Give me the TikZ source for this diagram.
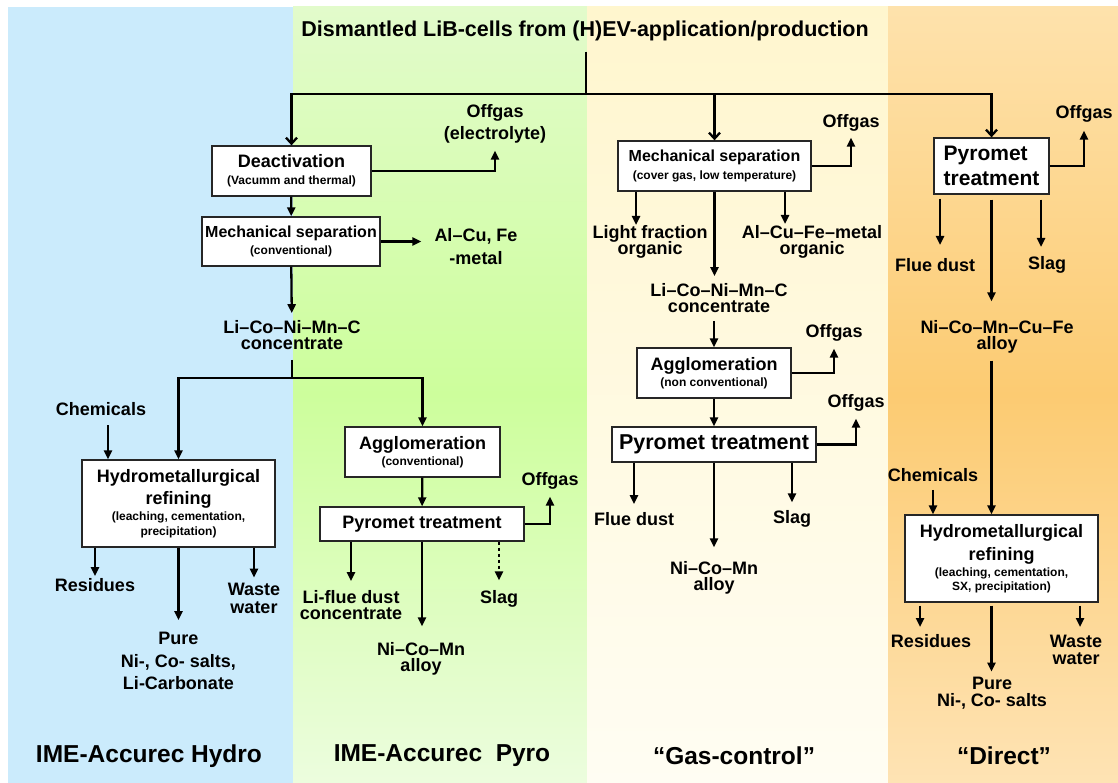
\documentclass[tikz,border=0pt]{standalone}
\usepackage{fontspec}
\setmainfont{Liberation Sans}
\usetikzlibrary{arrows.meta}

\newcommand{\setfs}[2]{\fontsize{#1}{#2}\selectfont\lineskiplimit=-50pt}
\newcommand{\subfs}{\fontsize{12}{14}\selectfont}

\definecolor{hydrobg}{RGB}{203,235,252}
\definecolor{pyrotop}{RGB}{226,251,203}
\definecolor{pyromid}{RGB}{205,254,156}
\definecolor{pyrobot}{RGB}{236,253,222}
\definecolor{gastop}{RGB}{255,246,206}
\definecolor{gasbot}{RGB}{255,253,243}
\definecolor{directtop}{RGB}{254,226,172}
\definecolor{directmid}{RGB}{252,203,114}
\definecolor{directbot}{RGB}{254,227,180}

\tikzset{
	box/.style={draw=black!85, line width=1.3pt, fill=white, align=center, inner sep=0pt, font=\bfseries\setfs{18}{16}},
	lbl/.style={align=center, inner sep=2pt, font=\bfseries\setfs{18}{16}},
	route/.style={line width=2.3pt},
	flow/.style={route, -{Triangle[length=9pt,width=8pt]}},
	feed/.style={route, -{Straight Barb[length=6pt,width=11pt]}},
	headline/.style={font=\bfseries\setfs{21.5}{24}},
	footlabel/.style={font=\bfseries\setfs{24.5}{28}}
}

\begin{document}
\begin{tikzpicture}[x=1pt, y=-1pt]
	\useasboundingbox (0,0) rectangle (1118,783);

	% column backgrounds
	\fill[hydrobg] (8,7) rectangle (293,783);
	\shade[top color=pyrotop, bottom color=pyrobot, middle color=pyromid] (293,7) rectangle (587,783);
	\shade[top color=gastop, bottom color=gasbot] (587,7) rectangle (888,783);
	\shade[top color=directtop, bottom color=directbot, middle color=directmid] (888,7) rectangle (1118,783);

	\node[headline] (src) at (585,31) {Dismantled LiB-cells from (H)EV-application/production};
	\coordinate (split) at (586,94);

	% IME-Accurec
	\node[box, minimum width=159, minimum height=50] (deact) at (291.5,171) {Deactivation\\[1pt]{\subfs (Vacumm and thermal)}};
	\node[box, minimum width=178, minimum height=49, font=\bfseries\setfs{16}{16}] (mech1) at (291,241.5) {Mechanical separation\\[1.6pt]{\subfs (conventional)}};
	\node[lbl, font=\bfseries\setfs{18}{22}] (gas1) at (495,124) {Offgas\\(electrolyte)};
	\node[lbl, font=\bfseries\setfs{18}{23}] (met1) at (476,247) {Al–Cu, Fe\\-metal};
	\node[lbl] (conc1) at (292,335) {Li–Co–Ni–Mn–C\\concentrate};
	\coordinate (fork) at (292,378);
	\node[lbl] (chem1) at (101,409) {Chemicals};
	\coordinate (chem1in) at (108,425);
	\node[box, minimum width=193, minimum height=87, font=\bfseries\setfs{18}{15}] (hydro1) at (178.5,503.5) {Hydrometallurgical\\[7pt]refining\\[0.8pt]{\subfs (leaching, cementation,}\\{\subfs precipitation)}};
	\node[lbl] (res1) at (95,585) {Residues};
	\node[lbl, font=\bfseries\setfs{18}{18}] (ww1) at (254,598) {Waste\\water};
	\node[lbl, font=\bfseries\setfs{18}{22.5}] (pure1) at (178.5,661) {Pure\\Ni-, Co- salts,\\Li-Carbonate};
	\node[box, minimum width=155, minimum height=50] (agg1) at (422.5,452) {Agglomeration\\{\subfs (conventional)}};
	\node[box, minimum width=204, minimum height=34] (pyro1) at (422,524) {Pyromet treatment};
	\node[lbl] (gas2) at (550,481) {Offgas};
	\node[lbl] (dust1) at (351,605) {Li-flue dust\\concentrate};
	\node[lbl] (slag1) at (499,599) {Slag};
	\node[lbl] (alloy1) at (421,659) {Ni–Co–Mn\\alloy};

	% Gas-control
	\node[box, minimum width=193, minimum height=50, font=\bfseries\setfs{16}{16}] (mech2) at (714.5,166) {Mechanical separation\\[2.6pt]{\subfs (cover gas, low temperature)}};
	\node[lbl] (gas3) at (851,123) {Offgas};
	\node[lbl] (light) at (650,242) {Light fraction\\organic};
	\coordinate (lightin) at (636,225);
	\node[lbl] (met2) at (812,242) {Al–Cu–Fe–metal\\organic};
	\coordinate (met2in) at (785,224);
	\node[lbl] (conc2) at (719,298) {Li–Co–Ni–Mn–C\\concentrate};
	\node[box, minimum width=154, minimum height=50] (agg2) at (714,373) {Agglomeration\\{\subfs (non conventional)}};
	\node[lbl] (gas4) at (834,333) {Offgas};
	\node[box, minimum width=204, minimum height=35, font=\bfseries\setfs{21.5}{24}] (pyro2) at (714,444.5) {Pyromet treatment};
	\node[lbl] (gas5) at (856,403) {Offgas};
	\node[lbl] (dust2) at (634,519) {Flue dust};
	\node[lbl] (slag2) at (792,519) {Slag};
	\node[lbl] (alloy2) at (714,578) {Ni–Co–Mn\\alloy};

	% Direct
	\node[box, minimum width=115, minimum height=56, align=left, font=\bfseries\setfs{21}{25}] (pyro3) at (991.5,166) {Pyromet\\treatment};
	\node[lbl] (gas6) at (1084,114) {Offgas};
	\node[lbl] (dust3) at (935,265) {Flue dust};
	\coordinate (dust3in) at (940,245);
	\node[lbl] (slag3) at (1047,265) {Slag};
	\coordinate (slag3in) at (1041,247);
	\node[lbl] (alloy3) at (997,337) {Ni–Co–Mn–Cu–Fe\\alloy};
	\node[lbl] (chem2) at (933,475) {Chemicals};
	\node[box, minimum width=193, minimum height=87, font=\bfseries\setfs{18}{15}] (hydro2) at (1001.5,558.5) {Hydrometallurgical\\[8pt]refining\\[0.8pt]{\subfs (leaching, cementation,}\\[-1pt]{\subfs SX, precipitation)}};
	\node[lbl] (res2) at (931,641) {Residues};
	\coordinate (res2in) at (920,627);
	\node[lbl, font=\bfseries\setfs{18}{17}] (ww2) at (1076,650) {Waste\\water};
	\coordinate (ww2in) at (1080,627);
	\node[lbl, font=\bfseries\setfs{18}{17}] (pure2) at (992,693) {Pure\\Ni-, Co- salts};

	% route names
	\node[footlabel] (hydro) at (149,756) {IME-Accurec Hydro};
	\node[footlabel] (pyro) at (442,756) {IME-Accurec\ \ Pyro};
	\node[footlabel] (gasctl) at (734,756) {“Gas-control”};
	\node[footlabel] (direct) at (1004,756) {“Direct”};

	% connectors
	\draw[route, shorten <=7pt] (src.south -| split) -- (split);
	\draw[feed] (split) -| (deact);
	\draw[feed] (split) -| (mech2);
	\draw[feed] (split) -| (pyro3);

	\draw[flow, shorten >=5pt] (deact.east) -| (gas1);
	\draw[flow] (deact) -- (mech1);
	\draw[flow, shorten >=11pt] (mech1.east) -- (mech1.east -| met1.west);
	\draw[flow, shorten >=5pt] (mech1) -- (conc1);
	\draw[route, shorten <=8pt] (conc1) -- (fork);
	\draw[flow] (fork) -| (hydro1);
	\draw[flow] (fork) -| (agg1);
	\draw[flow] (chem1in) -- (chem1in |- hydro1.north);
	\draw[flow] (hydro1.south -| res1) -- (res1);
	\draw[flow, shorten >=3pt] (hydro1.south -| ww1) -- (ww1);
	\draw[flow, shorten >=10pt] (hydro1) -- (pure1);
	\draw[flow] (agg1) -- (pyro1);
	\draw[flow, shorten >=5pt] (pyro1.east) -| (gas2);
	\draw[flow, shorten >=7pt] (pyro1.south -| dust1) -- (dust1);
	\draw[flow, shorten >=14pt] (pyro1.south) -- (pyro1.south |- alloy1.north);
	\draw[flow, dash pattern=on 3pt off 3pt, shorten >=8pt] (pyro1.south -| slag1) -- (slag1);

	\draw[flow, shorten >=4pt] (mech2.east) -| (gas3);
	\draw[flow] (mech2.south -| lightin) -- (lightin);
	\draw[flow] (mech2.south -| met2in) -- (met2in);
	\draw[flow, shorten >=5pt] (mech2.south) -- (mech2.south |- conc2.north);
	\draw[flow, shorten <=6pt] (conc2.south -| agg2) -- (agg2);
	\draw[flow, shorten >=5pt] (agg2.east) -| (gas4);
	\draw[flow] (agg2) -- (pyro2);
	\draw[flow, shorten >=5pt] (pyro2.east) -| (gas5);
	\draw[flow, shorten >=6pt] (pyro2.south -| dust2) -- (dust2);
	\draw[flow, shorten >=6pt] (pyro2.south -| slag2) -- (slag2);
	\draw[flow, shorten >=12pt] (pyro2) -- (alloy2);

	\draw[flow, shorten >=6pt] (pyro3.east) -| (gas6);
	\draw[flow, shorten <=4pt] (pyro3.south -| dust3in) -- (dust3in);
	\draw[flow, shorten <=5pt] (pyro3.south -| slag3in) -- (slag3in);
	\draw[flow, shorten <=5pt, shorten >=17pt] (pyro3) -- (pyro3 |- alloy3.north);
	\draw[flow, shorten <=5pt] (pyro3 |- alloy3.south) -- (pyro3 |- hydro2.north);
	\draw[flow, shorten <=6pt] (chem2) -- (chem2 |- hydro2.north);
	\draw[flow, shorten <=3pt] (hydro2.south -| res2in) -- (res2in);
	\draw[flow, shorten <=3pt] (hydro2.south -| ww2in) -- (ww2in);
	\draw[flow, shorten <=3pt, shorten >=3pt] (hydro2.south -| pyro3) -- (pyro3 |- pure2.north);
\end{tikzpicture}
\end{document}
